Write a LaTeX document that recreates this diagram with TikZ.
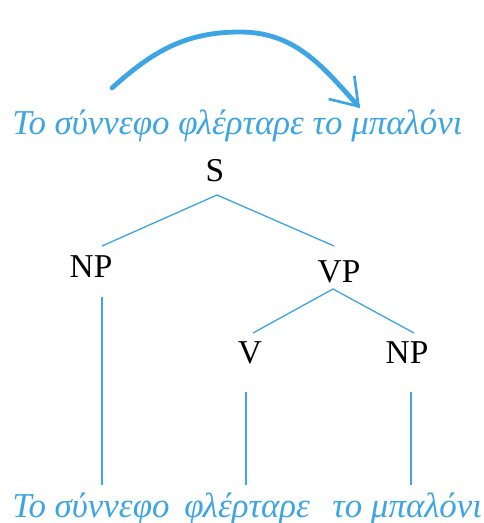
\documentclass[tikz,border=0pt]{standalone}
\usepackage{fontspec}
\setmainfont{Liberation Serif}
\usetikzlibrary{arrows.meta}
\definecolor{tblue}{RGB}{62,165,228}
\begin{document}
\begin{tikzpicture}[x=0.75pt,y=-0.75pt,
  lab/.style={font=\fontsize{25}{25}\selectfont, text=black, inner sep=0pt, anchor=base},
  greek/.style={font=\fontsize{26.2}{27}\selectfont\itshape, text=tblue, inner sep=0pt, anchor=base west},
  edge/.style={draw=tblue, line width=1pt},
  leaf/.style={draw=tblue, line width=1.6pt}]
\useasboundingbox (0,0) rectangle (483,523);
% arrow
\coordinate (a1) at (112,88);
\coordinate (a2) at (240,32);
\coordinate (a3) at (360,108);
\draw[tblue, line width=3.6pt, line cap=round,
  -{Straight Barb[length=19pt,width=26pt,line width=2pt]}]
  (a1) to[out=42,in=180] (a2) to[out=0,in=132] (a3);
% top sentence
\node[greek] (top) at (12,135) {Το σύννεφο φλέρταρε το μπαλόνι};
% tree labels
\node[lab] (S) at (215,182) {S};
\node[lab] (NP1) at (91,277) {NP};
\node[lab] (VP) at (339,282) {VP};
\node[lab] (V) at (250,363) {V};
\node[lab] (NP2) at (407,363) {NP};
% bottom words
\node[greek] (w1) at (12,517) {Το σύννεφο};
\node[greek] (w2) at (184,517) {φλέρταρε};
\node[greek] (w3) at (332,517) {το μπαλόνι};
% connector ends
\coordinate (Sb) at (217,195);
\coordinate (NP1t) at (102,246);
\coordinate (VPt) at (334,246);
\coordinate (VPb) at (333,289);
\coordinate (Vt) at (253,333);
\coordinate (NP2t) at (414,333);
\coordinate (NP1b) at (102,297);
\coordinate (w1t) at (102,485);
\coordinate (Vb) at (246,392);
\coordinate (w2t) at (246,485);
\coordinate (NP2b) at (411,392);
\coordinate (w3t) at (411,485);
\draw[edge] (NP1t) -- (Sb) -- (VPt);
\draw[edge] (Vt) -- (VPb) -- (NP2t);
\draw[leaf] (NP1b) -- (w1t);
\draw[leaf] (Vb) -- (w2t);
\draw[leaf] (NP2b) -- (w3t);
\end{tikzpicture}
\end{document}
